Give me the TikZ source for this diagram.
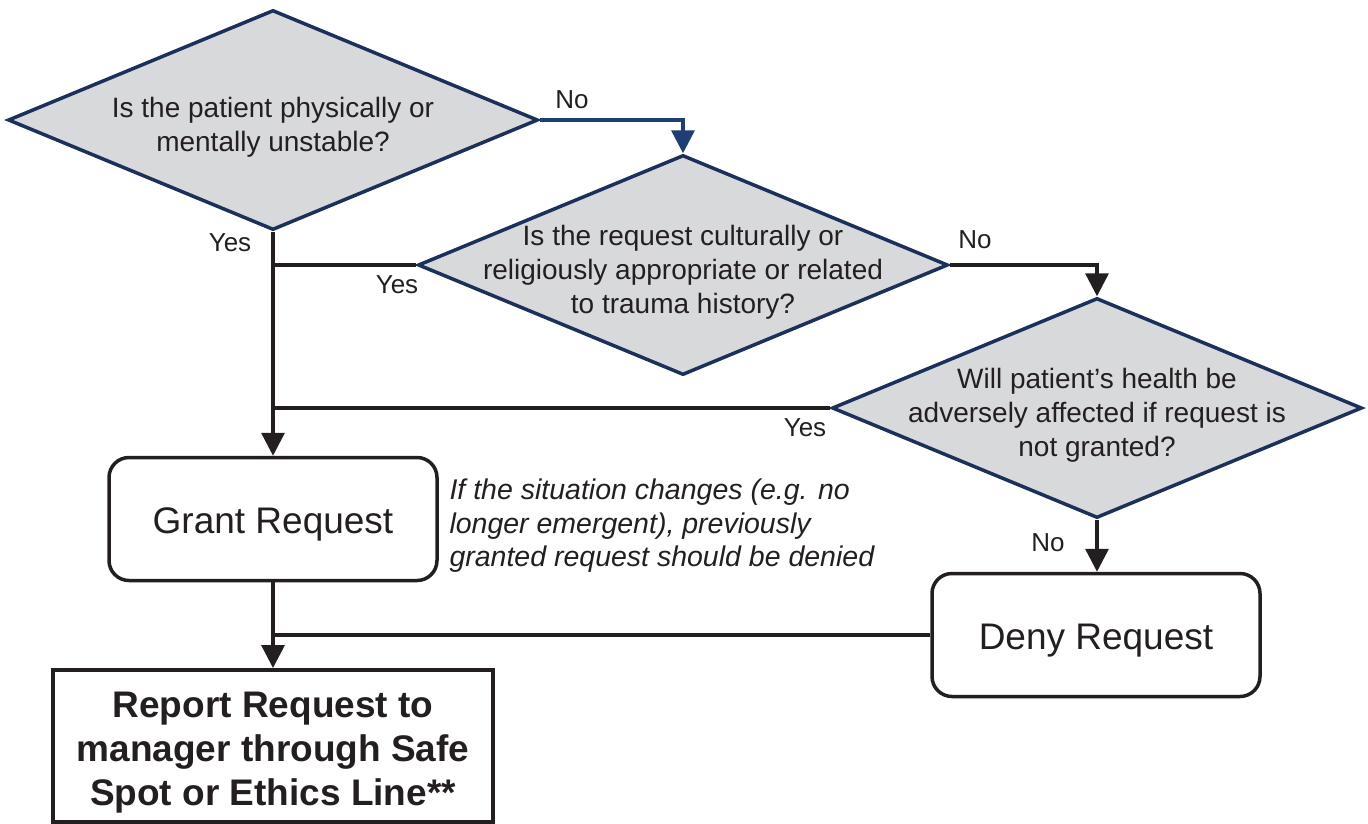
\documentclass[tikz,border=0pt]{standalone}
\usepackage{fontspec}
\setmainfont{Liberation Sans}
\usepackage{tikz}
\usetikzlibrary{shapes.geometric,arrows.meta}
\definecolor{navy}{RGB}{27,48,90}
\definecolor{askgray}{RGB}{216,217,219}
\definecolor{ink}{RGB}{35,31,32}
\definecolor{noblue}{RGB}{30,62,118}
\newcommand{\qgap}{\rule{0pt}{34pt}}
\newcommand{\rgap}{\rule{0pt}{39pt}}
\newcommand{\agap}{\rule{0pt}{36pt}}
\tikzstyle{question}=[diamond, aspect=2.4, draw=navy, fill=askgray, line width=3.5pt, minimum width=530pt, minimum height=220pt, inner sep=-50pt, align=center, text=ink, font=\fontsize{28}{34}\selectfont]
\tikzstyle{action}=[rectangle, rounded corners=20pt, draw=ink, line width=3.5pt, minimum width=328pt, minimum height=123pt, text=ink, font=\fontsize{37}{44}\selectfont]
\tikzstyle{report}=[rectangle, draw=ink, line width=4pt, minimum width=440pt, minimum height=152pt, align=center, text=ink, font=\fontsize{37}{44}\selectfont\bfseries]
\tikzstyle{answer}=[text=ink, font=\fontsize{26}{30}\selectfont]
\tikzstyle{edge}=[draw=ink, line width=3.5pt]
\tikzstyle{arrowE}=[edge, -{Triangle[width=23pt,length=23pt]}]
\tikzstyle{blueE}=[draw=noblue, line width=3.5pt, -{Triangle[width=23pt,length=23pt]}]

\begin{document}
\begin{tikzpicture}[x=1pt,y=-1pt]
    \useasboundingbox (0,0) rectangle (1368,823);

    %%%%%  Preguntas  %%%%%
    \node (Q1) [question] at (273,120) {\qgap Is the patient physically or\\mentally unstable?};
    \node (Q2) [question] at (683,265) {\qgap Is the request culturally or\\religiously appropriate or related\\to trauma history?};
    \node (Q3) [question] at (1097,408) {\qgap Will patient’s health be\\adversely affected if request is\\not granted?};

    %%%%%  Acciones  %%%%%
    \node (G) [action] at (273,519) {\agap Grant Request};
    \node (D) [action] at (1096,635) {\agap Deny Request};
    \node (R) [report] at (273,746) {\rgap Report Request to\\manager through Safe\\Spot or Ethics Line**};
    \node (N) [anchor=west, align=left, text=ink, font=\fontsize{28.5}{33.5}\selectfont\itshape] at (446,526)
      {If the situation changes (e.g. no\\longer emergent), previously\\granted request should be denied};

    %%%%%  Conectores  %%%%%
    \draw [blueE]  (Q1.east) -| (Q2.north);
    \draw [arrowE] (Q2.east) -| (Q3.north);
    \draw [arrowE] (Q1.south) -- (G.north);
    \draw [edge]   (Q2.west) -- (Q2.west -| Q1.south);
    \draw [edge]   (Q3.west) -- (Q3.west -| Q1.south);
    \draw [arrowE] (Q3.south) -- (Q3.south |- D.north);
    \draw [arrowE] (G.south) -- (R.north);
    \draw [edge]   (D.west) -- (D.west -| G.south);

    %%%%%  Etiquetas  %%%%%
    \node (T1) [answer] at (572,100) {No};
    \node (T2) [answer] at (230,243) {Yes};
    \node (T3) [answer] at (397,285) {Yes};
    \node (T4) [answer] at (975,240) {No};
    \node (T5) [answer] at (805,428) {Yes};
    \node (T6) [answer] at (1048,543) {No};
  \end{tikzpicture}
\end{document}
